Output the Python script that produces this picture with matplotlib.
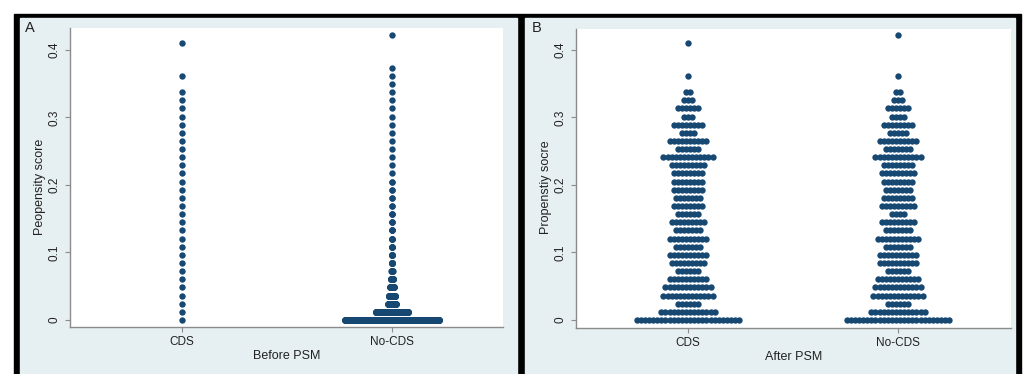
import matplotlib.pyplot as plt
from matplotlib.patches import Rectangle

# dotplot counts per propensity-score bin (36 bins, bin k sits at k * bin_width)
bin_width = 0.422 / 35
groups = ["CDS", "No-CDS"]

before_cds = [1, 1, 1, 1, 1, 1, 1, 1, 1, 1, 1, 1, 1, 1, 1, 1, 1, 1,
              1, 1, 1, 1, 1, 1, 1, 1, 1, 1, 1, 0, 1, 0, 0, 0, 1, 0]
before_nocds = [1000, 347, 84, 74, 42, 28, 12, 10, 8, 6, 5, 4, 3, 3, 2, 2, 2, 2,
                1, 1, 1, 1, 1, 1, 1, 1, 1, 1, 1, 1, 1, 1, 0, 0, 0, 1]
after_cds = [26, 14, 6, 13, 12, 10, 6, 9, 10, 7, 10, 7, 9, 6, 8, 7, 8, 8,
             8, 9, 13, 6, 10, 4, 8, 3, 6, 3, 2, 0, 1, 0, 0, 0, 1, 0]
after_nocds = [26, 14, 6, 13, 12, 11, 6, 10, 10, 7, 11, 7, 9, 4, 9, 8, 7, 8,
               9, 8, 12, 7, 10, 5, 8, 4, 6, 3, 2, 0, 1, 0, 0, 0, 0, 1]

W, H = 1027, 374
DOT = "#164872"
BG = "#e6eff1"
AXC = "#8c8c8c"
plt.rcParams["font.family"] = ["Liberation Sans", "DejaVu Sans"]


def px_box(x0, y0, x1, y1):
    return [x0 / W, 1 - y1 / H, (x1 - x0) / W, (y1 - y0) / H]


def dot_column(ax, xc, counts, dx):
    xs, ys = [], []
    for k, n in enumerate(counts):
        for i in range(n):
            xs.append(xc + (i - (n - 1) / 2) * dx)
            ys.append(k * bin_width)
    ax.scatter(xs, ys, s=21, color=DOT, linewidths=0, zorder=3, clip_on=False)


def panel(fig, box, data, dx, ylim, xlim, ylabel, xlabel, letter, letter_xy):
    ax = fig.add_axes(px_box(*box))
    ax.set_facecolor("white")
    for j, counts in enumerate(data):
        dot_column(ax, j + 1, counts, dx)
    ax.set_xlim(*xlim)
    ax.set_ylim(*ylim)
    ax.set_xticks([1, 2])
    ax.set_xticklabels(groups)
    ax.set_yticks([0, 0.1, 0.2, 0.3, 0.4])
    ax.set_yticklabels(["0", "0.1", "0.2", "0.3", "0.4"], rotation=90, va="center")
    for s in ["top", "right"]:
        ax.spines[s].set_visible(False)
    for s in ["left", "bottom"]:
        ax.spines[s].set_color(AXC)
        ax.spines[s].set_linewidth(1)
    ax.tick_params(axis="both", colors=AXC, labelcolor="#222222", labelsize=8.5,
                   length=3.5, width=0.8)
    ax.tick_params(axis="y", pad=3.5)
    ax.tick_params(axis="x", pad=3)
    ax.set_ylabel(ylabel, fontsize=9, color="#222222")
    ax.yaxis.set_label_coords(-24 / (box[2] - box[0]), 0.47)
    ax.set_xlabel(xlabel, fontsize=9, color="#222222", labelpad=1.5)
    fig.text(letter_xy[0] / W, 1 - letter_xy[1] / H, letter, fontsize=10.5,
             color="#222222", ha="left", va="top")
    return ax


fig = plt.figure(figsize=(W / 100, H / 100), dpi=100)
fig.patch.set_facecolor("white")

# black frames and light panel backgrounds
frame = px_box(14, 14, 1021, 380)
fig.add_artist(Rectangle(frame[:2], *frame[2:], transform=fig.transFigure,
                         color="black", zorder=-3))
for x0, x1 in [(20, 517), (525, 1015)]:
    b = px_box(x0, 18, x1, 380)
    fig.add_artist(Rectangle(b[:2], *b[2:], transform=fig.transFigure,
                             color=BG, zorder=-2))

panel(fig, (70, 28, 503, 327), [before_cds, before_nocds], 0.00045,
      (-0.0104, 0.4326), (0.4667, 2.5286), "Peopensity score", "Before PSM",
      "A", (25, 21))
panel(fig, (576, 29, 1011, 328), [after_cds, after_nocds], 0.0195,
      (-0.0119, 0.4311), (0.4667, 2.538), "Propenstiy socre", "After PSM",
      "B", (532, 21))

fig.savefig("out.png", dpi=100)
